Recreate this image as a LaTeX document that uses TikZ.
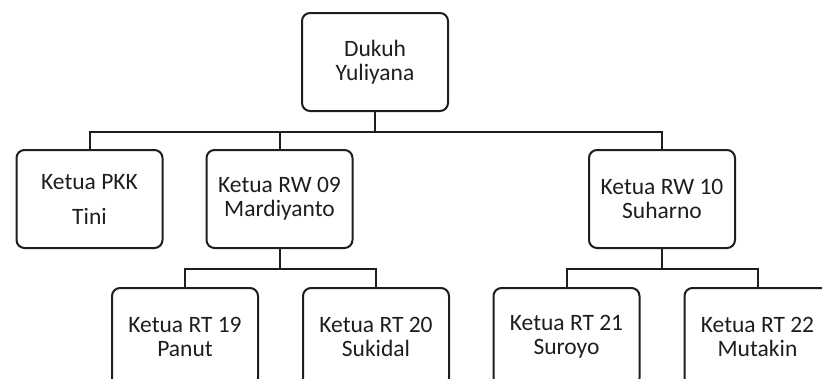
\documentclass[tikz,border=0pt]{standalone}
\usepackage{fontspec}
\setmainfont{Carlito}
\definecolor{ink}{HTML}{1E1E1E}
\begin{document}
\begin{tikzpicture}[x=1pt,y=-1pt,
  box/.style={draw=ink, line width=2pt, rounded corners=8pt, fill=white,
    minimum width=146pt, minimum height=98pt, inner sep=0pt, align=center,
    text=ink, font=\fontsize{23.5}{24}\selectfont},
  link/.style={draw=ink, line width=2pt}]
\useasboundingbox (0,0) rectangle (822,378);
\clip (0,0) rectangle (822,378);
\node[box] (dukuh) at (375,62) {Dukuh\\Yuliyana};
\node[box, font=\fontsize{23.5}{35}\selectfont] (pkk) at (89.5,199) {Ketua PKK\\Tini};
\node[box] (rw09) at (279.5,199) {Ketua RW 09\\Mardiyanto};
\node[box] (rw10) at (662,199) {Ketua RW 10\\Suharno};
\node[box] (rt19) at (185,337) {Ketua RT 19\\Panut};
\node[box] (rt20) at (376,337) {Ketua RT 20\\Sukidal};
\node[box] (rt21) at (566.5,337) {Ketua RT 21\\Suroyo};
\node[box] (rt22) at (757.5,337) {Ketua RT 22\\Mutakin};
\draw[link] (dukuh.south) -- ++(0,20) -| (pkk.north);
\draw[link] (dukuh.south) ++(0,20) -| (rw09.north);
\draw[link] (dukuh.south) ++(0,20) -| (rw10.north);
\draw[link] (rw09.south) -- ++(0,20) -| (rt19.north);
\draw[link] (rw09.south) ++(0,20) -| (rt20.north);
\draw[link] (rw10.south) -- ++(0,20) -| (rt21.north);
\draw[link] (rw10.south) ++(0,20) -| (rt22.north);
\end{tikzpicture}
\end{document}
